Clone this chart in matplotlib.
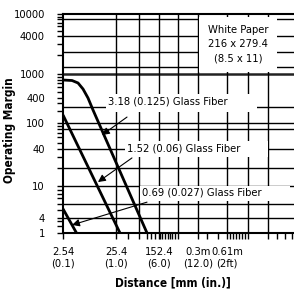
import numpy as np
import matplotlib
matplotlib.use("Agg")
import matplotlib.pyplot as plt
from matplotlib.patches import Rectangle
from matplotlib import font_manager as fm

# pick a condensed face if one is installed
_entries = fm.fontManager.ttflist
_names = {f.name for f in _entries}
if 'Liberation Sans Narrow' in _names:
    FAM, STRETCH, FS, FSB = 'Liberation Sans Narrow', 'normal', 9, 9.5
elif any(f.name == 'DejaVu Sans' and 'condensed' in str(f.stretch) for f in _entries):
    FAM, STRETCH, FS, FSB = 'DejaVu Sans', 'condensed', 8, 8.5
else:
    FAM, STRETCH, FS, FSB = 'Liberation Sans', 'normal', 8, 8.5
plt.rcParams['font.family'] = [FAM, 'DejaVu Sans']
plt.rcParams['font.stretch'] = STRETCH

# ---------------- data ----------------
# distance in mm, operating margin
fiber_318_x = [2.54, 3.76, 4.88, 6.06, 7.53, 9.35, 92.5]
fiber_318_y = [795, 780, 710, 564, 400, 206, 1]
fiber_152_x = [2.54, 30.0]
fiber_152_y = [156, 1]
fiber_069_x = [2.54, 4.57]
fiber_069_y = [5.2, 1]

x_tick_vals = [2.54, 25.4, 152.4, 304.8, 609.6]
x_tick_labels = ["2.54\n(0.1)", "25.4\n(1.0)", "152.4\n(6.0)", "0.3m\n(12.0)", "0.61m\n(2ft)"]
y_tick_vals = [1, 4, 10, 40, 100, 400, 1000, 4000, 10000]
y_tick_labels = ["1", "4", "10", "40", "100", "400", "1000", "4000", "10000"]

y_grid_vals = [8000, 4000, 2200, 1300, 240, 100, 80, 40, 20, 10, 6.0, 4]
x_grid_vals = [25.4, 66, 152.4, 214, 304.8, 609.6, 1000, 1600]

# ---------------- layout helpers ----------------
W = H = 294
fig = plt.figure(figsize=(W / 100, H / 100), dpi=100)
L, R, T, B = 63, 294, 14, 233
ax = fig.add_axes([L / W, 1 - B / H, (R - L) / W, (B - T) / H])


def make_scale(vals, pix):
    lv = np.log10(np.asarray(vals, float))
    pv = np.asarray(pix, float)

    def fwd(v):
        v = np.asarray(v, float)
        with np.errstate(all='ignore'):
            l = np.log10(np.where(v > 0, v, 1e-300))
        p = np.interp(l, lv, pv)
        p = np.where(l < lv[0], pv[0] + (l - lv[0]) * (pv[1] - pv[0]) / (lv[1] - lv[0]), p)
        p = np.where(l > lv[-1], pv[-1] + (l - lv[-1]) * (pv[-1] - pv[-2]) / (lv[-1] - lv[-2]), p)
        return p

    def inv(p):
        p = np.asarray(p, float)
        l = np.interp(p, pv, lv)
        l = np.where(p < pv[0], lv[0] + (p - pv[0]) * (lv[1] - lv[0]) / (pv[1] - pv[0]), l)
        l = np.where(p > pv[-1], lv[-1] + (p - pv[-1]) * (lv[-1] - lv[-2]) / (pv[-1] - pv[-2]), l)
        return 10 ** l

    return fwd, inv


xs = make_scale([2.54, 25.4, 152.4, 304.8, 609.6, 3000], [63, 116, 159, 198, 227, 294])
ys = make_scale([1, 4, 10, 40, 100, 400, 1000, 4000, 10000],
                [-233, -218, -186, -149, -123, -98, -74, -36, -14])
ax.set_xscale('function', functions=xs)
ax.set_yscale('function', functions=ys)
ax.set_xlim(2.54, 3000)
ax.set_ylim(1, 10000)

# grid
for v in y_grid_vals:
    ax.axhline(v, color='black', lw=1.0, zorder=1)
ax.axhline(1000, color='#222222', lw=1.8, zorder=1)
for v in x_grid_vals:
    ax.axvline(v, color='black', lw=1.0, zorder=1)


def pix_rect(x0, y0, x1, y1):
    ax.add_patch(Rectangle((x0 / W, 1 - y1 / H), (x1 - x0) / W, (y1 - y0) / H,
                           transform=fig.transFigure, facecolor='white',
                           edgecolor='none', zorder=2))


pix_rect(199, 17, 277, 72)
pix_rect(106, 94, 257, 112)
pix_rect(125, 141, 268, 157)
pix_rect(140, 186, 290, 201)

# curves
for xv, yv in [(fiber_318_x, fiber_318_y), (fiber_152_x, fiber_152_y), (fiber_069_x, fiber_069_y)]:
    ax.plot(xv, yv, color='black', lw=2.0, solid_capstyle='butt', zorder=3, clip_on=True)

# labels
ax.text(18, 321, "3.18 (0.125) Glass Fiber", fontsize=FS, va='center', ha='left', zorder=4)
ax.text(40.2, 41, "1.52 (0.06) Glass Fiber", fontsize=FS, va='center', ha='left', zorder=4)
ax.text(75, 8.2, "0.69 (0.027) Glass Fiber", fontsize=FS, va='center', ha='left', zorder=4)
fig.text(238 / W, 1 - 44 / H, "White Paper\n216 x 279.4\n(8.5 x 11)", fontsize=FS,
         ha='center', va='center', linespacing=1.55, zorder=5)

ap = dict(arrowstyle='-|>', color='black', lw=0.8, mutation_scale=11, shrinkA=0, shrinkB=0)
ax.annotate('', xy=(13.8, 65.5), xytext=(40.2, 139), arrowprops=ap, zorder=5)
ax.annotate('', xy=(11.6, 11.6), xytext=(49.4, 28.6), arrowprops=ap, zorder=5)
ax.annotate('', xy=(3.76, 2.1), xytext=(92.5, 6.3), arrowprops=ap, zorder=5)

# spines
ax.spines['right'].set_visible(False)
for s in ['left', 'bottom', 'top']:
    ax.spines[s].set_linewidth(1.5)
    ax.spines[s].set_zorder(6)

# ticks
ax.set_xticks(x_tick_vals)
ax.set_xticklabels(x_tick_labels, fontsize=FS, linespacing=1.2)
minor_x_pix = [128, 139, 147, 151, 155, 160, 162.5, 165, 167.5, 170, 172.5, 175, 177.5,
               207, 218, 230, 233, 236, 239, 242, 245, 248, 268, 277, 285, 292]
ax.set_xticks(xs[1](np.array(minor_x_pix, float)), minor=True)
ax.set_yticks(y_tick_vals)
ax.set_yticklabels(y_tick_labels, fontsize=FS)
ax.set_yticks([k * 10 ** d for d in range(4) for k in range(2, 10)], minor=True)
ax.tick_params(axis='both', which='both', direction='out', length=4, width=1.0, color='black')
ax.tick_params(axis='x', which='major', pad=6)
ax.tick_params(axis='y', which='major', pad=9)
ax.tick_params(axis='y', which='minor', labelleft=False)
ax.tick_params(axis='x', which='minor', labelbottom=False)

fig.text(173 / W, 1 - 283 / H, "Distance [mm (in.)]", fontsize=FSB, fontweight='bold',
         ha='center', va='center')
fig.text(10 / W, 1 - 130 / H, "Operating Margin", fontsize=FSB, fontweight='bold',
         ha='center', va='center', rotation=90)

fig.savefig('out.png', dpi=100)
